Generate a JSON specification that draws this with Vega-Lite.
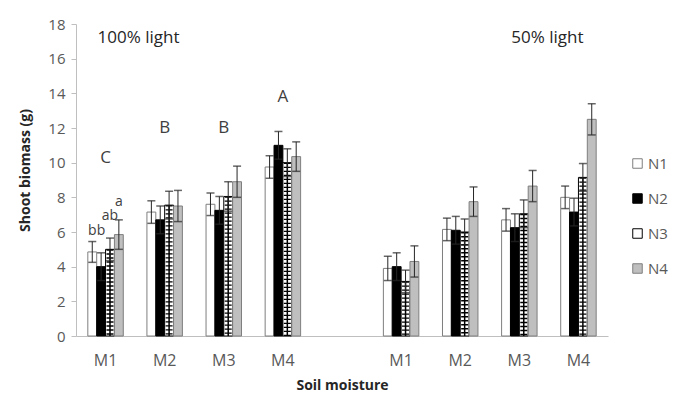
{
  "$schema": "https://vega.github.io/schema/vega-lite/v6.json",
  "width": 532,
  "height": 312,
  "autosize": {"type": "none"},
  "padding": {"left": 76, "top": 24, "right": 66, "bottom": 60},
  "background": "white",
  "config": {
    "view": {"stroke": null},
    "font": "Open Sans",
    "axis": {"grid": false},
    "axisY": {
      "labelOverlap": false,
      "labelFlush": false,
      "tickCount": 10,
      "labelFontSize": 15,
      "labelColor": "#595959",
      "labelPadding": 6,
      "tickSize": 5,
      "tickColor": "#bfbfbf",
      "domainColor": "#bfbfbf",
      "titleFontSize": 14,
      "titleFontWeight": "bold",
      "titleColor": "#262626",
      "titlePadding": 15,
      "titleY": 146
    }
  },
  "datasets": {
    "bars": [
      {"slot": "100% M1", "n": "N1", "v": 4.85, "lo": 4.25, "hi": 5.45},
      {"slot": "100% M1", "n": "N2", "v": 4.0, "lo": 3.2, "hi": 4.8},
      {"slot": "100% M1", "n": "N3", "v": 5.0, "lo": 4.35, "hi": 5.65},
      {"slot": "100% M1", "n": "N4", "v": 5.85, "lo": 5.0, "hi": 6.7},
      {"slot": "100% M2", "n": "N1", "v": 7.15, "lo": 6.5, "hi": 7.8},
      {"slot": "100% M2", "n": "N2", "v": 6.7, "lo": 5.9, "hi": 7.5},
      {"slot": "100% M2", "n": "N3", "v": 7.55, "lo": 6.75, "hi": 8.35},
      {"slot": "100% M2", "n": "N4", "v": 7.5, "lo": 6.6, "hi": 8.4},
      {"slot": "100% M3", "n": "N1", "v": 7.6, "lo": 6.95, "hi": 8.25},
      {"slot": "100% M3", "n": "N2", "v": 7.25, "lo": 6.45, "hi": 8.05},
      {"slot": "100% M3", "n": "N3", "v": 8.05, "lo": 7.2, "hi": 8.9},
      {"slot": "100% M3", "n": "N4", "v": 8.9, "lo": 8.0, "hi": 9.8},
      {"slot": "100% M4", "n": "N1", "v": 9.75, "lo": 9.1, "hi": 10.4},
      {"slot": "100% M4", "n": "N2", "v": 11.0, "lo": 10.2, "hi": 11.8},
      {"slot": "100% M4", "n": "N3", "v": 10.0, "lo": 9.2, "hi": 10.8},
      {"slot": "100% M4", "n": "N4", "v": 10.35, "lo": 9.5, "hi": 11.2},
      {"slot": "50% M1", "n": "N1", "v": 3.9, "lo": 3.2, "hi": 4.6},
      {"slot": "50% M1", "n": "N2", "v": 4.0, "lo": 3.2, "hi": 4.8},
      {"slot": "50% M1", "n": "N3", "v": 3.15, "lo": 2.5, "hi": 3.8},
      {"slot": "50% M1", "n": "N4", "v": 4.3, "lo": 3.4, "hi": 5.2},
      {"slot": "50% M2", "n": "N1", "v": 6.15, "lo": 5.5, "hi": 6.8},
      {"slot": "50% M2", "n": "N2", "v": 6.1, "lo": 5.3, "hi": 6.9},
      {"slot": "50% M2", "n": "N3", "v": 6.0, "lo": 5.25, "hi": 6.75},
      {"slot": "50% M2", "n": "N4", "v": 7.75, "lo": 6.9, "hi": 8.6},
      {"slot": "50% M3", "n": "N1", "v": 6.7, "lo": 6.05, "hi": 7.35},
      {"slot": "50% M3", "n": "N2", "v": 6.25, "lo": 5.45, "hi": 7.05},
      {"slot": "50% M3", "n": "N3", "v": 7.05, "lo": 6.25, "hi": 7.85},
      {"slot": "50% M3", "n": "N4", "v": 8.65, "lo": 7.75, "hi": 9.55},
      {"slot": "50% M4", "n": "N1", "v": 8.0, "lo": 7.35, "hi": 8.65},
      {"slot": "50% M4", "n": "N2", "v": 7.15, "lo": 6.35, "hi": 7.95},
      {"slot": "50% M4", "n": "N3", "v": 9.15, "lo": 8.35, "hi": 9.95},
      {"slot": "50% M4", "n": "N4", "v": 12.5, "lo": 11.6, "hi": 13.4}
    ],
    "groupLetters": [
      {"slot": "100% M1", "y": 10.25, "t": "C"},
      {"slot": "100% M2", "y": 12.0, "t": "B"},
      {"slot": "100% M3", "y": 12.0, "t": "B"},
      {"slot": "100% M4", "y": 13.8, "t": "A"}
    ],
    "barLetters": [
      {"slot": "100% M1", "n": "N1", "y": 6.05, "t": "b"},
      {"slot": "100% M1", "n": "N2", "y": 6.05, "t": "b"},
      {"slot": "100% M1", "n": "N3", "y": 6.9, "t": "ab"},
      {"slot": "100% M1", "n": "N4", "y": 7.75, "t": "a"}
    ],
    "headers": [
      {"slot": "100% M1", "y": 17.2, "t": "100% light"},
      {"slot": "50% M3", "y": 17.2, "t": "50% light"}
    ]
  },
  "encoding": {
    "x": {
      "field": "slot",
      "type": "nominal",
      "scale": {
        "domain": ["100% M1", "100% M2", "100% M3", "100% M4", " ", "50% M1", "50% M2", "50% M3", "50% M4"],
        "paddingInner": 0.4,
        "paddingOuter": 0.2
      },
      "axis": {
        "title": "Soil moisture",
        "titleFont": "Open Sans",
        "titleFontSize": 14,
        "titleFontWeight": "bold",
        "titleColor": "#262626",
        "titlePadding": 10,
        "labelExpr": "slice(datum.value, -2)",
        "labelAngle": 0,
        "labelFontSize": 16,
        "labelColor": "#595959",
        "labelPadding": 16,
        "ticks": false,
        "domainColor": "#bfbfbf",
        "domainWidth": 1
      }
    }
  },
  "layer": [
    {
      "data": {"name": "bars"},
      "mark": {"type": "bar", "strokeWidth": 1},
      "encoding": {
        "xOffset": {"field": "n", "type": "nominal", "scale": {"domain": ["N1", "N2", "N3", "N4"], "paddingInner": 0}},
        "y": {
          "field": "v",
          "type": "quantitative",
          "scale": {"domain": [0, 18], "nice": false},
          "axis": {
            "title": "Shoot biomass (g)",
            "values": [0, 2, 4, 6, 8, 10, 12, 14, 16, 18],
            "labelOverlap": false,
            "labelFlush": false
          }
        },
        "fill": {
          "field": "n",
          "type": "nominal",
          "scale": {"domain": ["N1", "N2", "N3", "N4"], "range": ["#ffffff", "#000000", "#ffffff", "#bfbfbf"]},
          "legend": {
            "title": null,
            "orient": "none",
            "legendX": 554,
            "legendY": 132,
            "symbolType": "square",
            "symbolSize": 90,
            "symbolStrokeWidth": 1,
            "labelFontSize": 15,
            "labelColor": "#595959",
            "labelOffset": 3,
            "rowPadding": 19
          }
        },
        "stroke": {
          "field": "n",
          "type": "nominal",
          "scale": {"domain": ["N1", "N2", "N3", "N4"], "range": ["#7f7f7f", "#000000", "#000000", "#7f7f7f"]},
          "legend": {
            "title": null,
            "orient": "none",
            "legendX": 554,
            "legendY": 132,
            "symbolType": "square",
            "symbolSize": 90,
            "symbolStrokeWidth": 1,
            "labelFontSize": 15,
            "labelColor": "#595959",
            "labelOffset": 3,
            "rowPadding": 19
          }
        }
      }
    },
    {
      "data": {"name": "bars"},
      "transform": [{"filter": "datum.n == 'N3'"}],
      "mark": {"type": "rule", "color": "#000000", "strokeWidth": 7, "strokeDash": [1.4, 2.6]},
      "encoding": {
        "xOffset": {"field": "n", "type": "nominal"},
        "y": {"field": "v", "type": "quantitative"},
        "y2": {"datum": 0}
      }
    },
    {
      "data": {"name": "bars"},
      "transform": [{"filter": "datum.n == 'N3'"}],
      "mark": {"type": "rule", "color": "#000000", "strokeWidth": 1.5},
      "encoding": {
        "xOffset": {"field": "n", "type": "nominal"},
        "y": {"field": "v", "type": "quantitative"},
        "y2": {"datum": 0}
      }
    },
    {
      "data": {"name": "bars"},
      "mark": {"type": "rule", "color": "#262626", "strokeWidth": 1},
      "encoding": {
        "xOffset": {"field": "n", "type": "nominal"},
        "y": {"field": "lo", "type": "quantitative"},
        "y2": {"field": "hi"}
      }
    },
    {
      "data": {"name": "bars"},
      "mark": {"type": "tick", "color": "#262626", "size": 8, "thickness": 1.5},
      "encoding": {
        "xOffset": {"field": "n", "type": "nominal"},
        "y": {"field": "lo", "type": "quantitative"}
      }
    },
    {
      "data": {"name": "bars"},
      "mark": {"type": "tick", "color": "#262626", "size": 8, "thickness": 1.5},
      "encoding": {
        "xOffset": {"field": "n", "type": "nominal"},
        "y": {"field": "hi", "type": "quantitative"}
      }
    },
    {
      "data": {"name": "groupLetters"},
      "mark": {"type": "text", "fontSize": 17, "color": "#404040", "baseline": "middle"},
      "encoding": {
        "y": {"field": "y", "type": "quantitative"},
        "text": {"field": "t"}
      }
    },
    {
      "data": {"name": "barLetters"},
      "mark": {"type": "text", "fontSize": 14, "color": "#404040", "baseline": "middle"},
      "encoding": {
        "xOffset": {"field": "n", "type": "nominal"},
        "y": {"field": "y", "type": "quantitative"},
        "text": {"field": "t"}
      }
    },
    {
      "data": {"name": "headers"},
      "mark": {"type": "text", "fontSize": 17, "color": "#262626", "baseline": "middle", "align": "left", "dx": -8},
      "encoding": {
        "y": {"field": "y", "type": "quantitative"},
        "text": {"field": "t"}
      }
    }
  ]
}
